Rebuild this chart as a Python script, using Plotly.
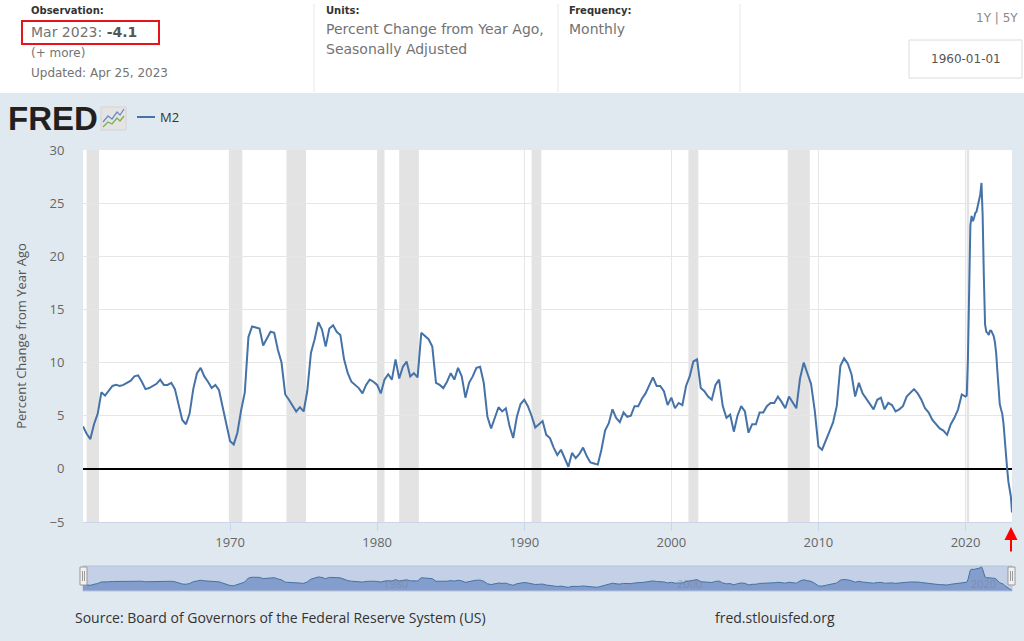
import pandas as pd
import plotly.graph_objects as go

# ---------------- data ----------------
# M2, percent change from year ago. Quarterly readings (Jan, Apr, Jul, Oct) 1960-2019
m2_quarterly = [
    4.0, 3.3, 2.8, 4.2,    # 1960
    5.2, 7.2, 6.9, 7.4,    # 1961
    7.8, 7.9, 7.8, 7.9,    # 1962
    8.1, 8.3, 8.7, 8.8,    # 1963
    8.2, 7.5, 7.6, 7.8,    # 1964
    8.0, 8.4, 7.9, 7.9,    # 1965
    8.1, 7.5, 5.9, 4.6,    # 1966
    4.2, 5.2, 7.5, 9.0,    # 1967
    9.5, 8.7, 8.2, 7.6,    # 1968
    7.9, 7.4, 5.8, 4.2,    # 1969
    2.6, 2.3, 3.4, 5.5,    # 1970
    7.2, 12.4, 13.4, 13.3, # 1971
    13.2, 11.6, 12.2, 12.9,# 1972
    12.8, 11.2, 10.0, 7.0, # 1973
    6.5, 6.0, 5.4, 5.8,    # 1974
    5.4, 7.3, 10.9, 12.2,  # 1975
    13.8, 13.1, 11.5, 13.2,# 1976
    13.5, 12.9, 12.6, 10.3,# 1977
    9.0, 8.2, 7.9, 7.6,    # 1978
    7.1, 7.9, 8.4, 8.2,    # 1979
    7.9, 7.1, 8.4, 8.9,    # 1980
    8.4, 10.3, 8.5, 9.6,   # 1981
    10.1, 8.7, 9.0, 8.6,   # 1982
    12.8, 12.5, 12.2, 11.5,# 1983
    8.1, 7.9, 7.6, 8.2,    # 1984
    9.0, 8.4, 9.5, 8.7,    # 1985
    6.7, 8.1, 8.7, 9.5,    # 1986
    9.6, 8.1, 4.9, 3.8,    # 1987
    4.9, 5.8, 5.4, 5.7,    # 1988
    4.0, 2.9, 4.9, 6.1,    # 1989
    6.5, 5.9, 5.0, 3.9,    # 1990
    4.2, 4.5, 3.2, 2.9,    # 1991
    2.0, 1.3, 1.8, 1.0,    # 1992
    0.2, 1.5, 1.0, 1.4,    # 1993
    2.0, 1.2, 0.6, 0.5,    # 1994
    0.4, 1.8, 3.6, 4.3,    # 1995
    5.6, 4.8, 4.4, 5.3,    # 1996
    4.9, 5.0, 5.9, 5.9,    # 1997
    6.6, 7.1, 7.8, 8.6,    # 1998
    7.8, 7.8, 7.3, 6.0,    # 1999
    6.7, 5.7, 6.2, 6.0,    # 2000
    7.8, 8.7, 10.1, 10.3,  # 2001
    7.6, 7.3, 6.8, 6.5,    # 2002
    7.9, 8.4, 5.9, 4.8,    # 2003
    5.1, 3.5, 5.0, 5.9,    # 2004
    5.4, 3.4, 4.2, 4.2,    # 2005
    5.3, 5.3, 5.9, 6.2,    # 2006
    6.2, 6.8, 6.3, 5.7,    # 2007
    6.8, 6.2, 5.7, 8.5,    # 2008
    10.0, 9.0, 8.0, 5.5,   # 2009
    2.1, 1.8, 2.6, 3.5,    # 2010
    4.4, 5.9, 9.7, 10.4,   # 2011
    9.9, 8.9, 6.8, 8.1,    # 2012
    7.1, 6.6, 6.2, 5.6,    # 2013
    6.5, 6.7, 5.6, 6.2,    # 2014
    6.0, 5.4, 5.6, 5.9,    # 2015
    6.8, 7.2, 7.5, 7.1,    # 2016
    6.5, 5.7, 5.3, 4.6,    # 2017
    4.2, 3.8, 3.6, 3.2,    # 2018
    4.2, 4.8, 5.6, 7.0,    # 2019
]
# Monthly readings Jan 2020 - Mar 2023
m2_monthly = [
    6.8, 6.9, 10.3, 17.6, 22.9, 23.8, 23.3, 23.6, 24.1, 24.2, 24.7, 25.2,   # 2020
    25.8, 26.9, 24.0, 18.1, 13.6, 12.9, 12.8, 12.6, 13.0, 13.0, 12.7, 12.5, # 2021
    11.9, 10.9, 9.3, 7.6, 6.1, 5.6, 5.2, 4.3, 2.6, 1.3, 0.0, -1.2,          # 2022
    -1.9, -2.6, -4.1,                                                       # 2023
]
quarterly_dates = pd.date_range("1960-01-01", "2019-10-01", freq="QS")
monthly_dates = pd.date_range("2020-01-01", "2023-03-01", freq="MS")
dates = list(quarterly_dates) + list(monthly_dates)
values = m2_quarterly + m2_monthly

recessions = [
    ("1960-04-01", "1961-02-01"), ("1969-12-01", "1970-11-01"),
    ("1973-11-01", "1975-03-01"), ("1980-01-01", "1980-07-01"),
    ("1981-07-01", "1982-11-01"), ("1990-07-01", "1991-03-01"),
    ("2001-03-01", "2001-11-01"), ("2007-12-01", "2009-06-01"),
    ("2020-02-01", "2020-04-01"),
]
x_tick_years = ["1970", "1980", "1990", "2000", "2010", "2020"]
nav_tick_years = ["1980", "2000", "2020"]
y_ticks = [-5, 0, 5, 10, 15, 20, 25, 30]

# ---------------- layout helpers (pixel -> paper) ----------------
W_PX, H_PX = 1024, 641
L, R, T, B = 83, 1012, 150, 591
def px(x):
    return (x - L) / (R - L)
def py(y):
    return (B - y) / (B - T)

BLUE = "#4572a7"
BG = "#e1e9f0"
HFONT = "DejaVu Sans"
CFONT = "Open Sans"

fig = go.Figure()

# main line
fig.add_trace(go.Scatter(
    x=dates, y=values, mode="lines", name="M2",
    line=dict(color=BLUE, width=2), xaxis="x", yaxis="y",
    showlegend=False, hovertemplate="%{x|%b %Y}: %{y:.1f}<extra></extra>",
))
# navigator area (shifted so the fill sits on the navigator's floor)
vmin = min(values)
nav_vals = [v - vmin for v in values]
fig.add_trace(go.Scatter(
    x=dates, y=nav_vals, mode="lines", fill="tozeroy",
    line=dict(color=BLUE, width=1), fillcolor="rgba(110,140,195,0.75)",
    xaxis="x2", yaxis="y2", showlegend=False, hoverinfo="skip",
))

shapes = []
# recession bands
for s, e in recessions:
    shapes.append(dict(type="rect", xref="x", yref="y domain", x0=s, x1=e, y0=0, y1=1,
                       fillcolor="#e3e3e3", line=dict(width=0), layer="below"))
# header white band
shapes.append(dict(type="rect", xref="paper", yref="paper", x0=px(0), x1=px(W_PX),
                   y0=py(93), y1=py(0), fillcolor="white", line=dict(width=0), layer="below"))
# header dividers
for xd in (314, 558, 740):
    shapes.append(dict(type="line", xref="paper", yref="paper", x0=px(xd), x1=px(xd),
                       y0=py(92), y1=py(4), line=dict(color="#e8e8e8", width=1)))
# red observation box
shapes.append(dict(type="rect", xref="paper", yref="paper", x0=px(22), x1=px(159),
                   y0=py(44), y1=py(21), line=dict(color="#e8141b", width=2)))
# date box
shapes.append(dict(type="rect", xref="paper", yref="paper", x0=px(909), x1=px(1022),
                   y0=py(78), y1=py(40), line=dict(color="#dcdcdc", width=1),
                   fillcolor="white"))
# FRED icon
shapes.append(dict(type="rect", xref="paper", yref="paper", x0=px(101), x1=px(126),
                   y0=py(130), y1=py(107), fillcolor="#e4e4e4",
                   line=dict(color="#d4d4d4", width=1)))
def path(points):
    return "M " + " L ".join(f"{px(a):.5f},{py(b):.5f}" for a, b in points)
shapes.append(dict(type="path", xref="paper", yref="paper",
                   path=path([(103, 122), (108, 116), (112, 119), (117, 112), (120, 115), (124, 109)]),
                   line=dict(color="#6b8fc2", width=1.3)))
shapes.append(dict(type="path", xref="paper", yref="paper",
                   path=path([(103, 127), (108, 122), (112, 124), (117, 118), (120, 121), (124, 116)]),
                   line=dict(color="#7fb04a", width=1.3)))
# legend line
shapes.append(dict(type="line", xref="paper", yref="paper", x0=px(137), x1=px(155),
                   y0=py(117), y1=py(117), line=dict(color=BLUE, width=2)))
# navigator handles
for hx in (80, 1008):
    shapes.append(dict(type="rect", xref="paper", yref="paper", x0=px(hx), x1=px(hx + 7),
                       y0=py(585), y1=py(567), fillcolor="#f2f2f2",
                       line=dict(color="#999999", width=1)))
    for lx in (hx + 2.5, hx + 4.5):
        shapes.append(dict(type="line", xref="paper", yref="paper", x0=px(lx), x1=px(lx),
                           y0=py(581), y1=py(571), line=dict(color="#999999", width=1)))

annotations = []
def text(x, y, s, size, color, family=HFONT, xanchor="left"):
    annotations.append(dict(x=px(x), y=py(y), xref="paper", yref="paper", text=s,
                            showarrow=False, xanchor=xanchor, yanchor="middle",
                            font=dict(family=family, size=size, color=color)))

GRAY = "#737373"
text(29, 11, "<b>Observation:</b>", 10, "#333333")
text(29, 32, "Mar 2023: <b><span style='color:#555555'>-4.1</span></b>", 14, GRAY)
text(29, 53, "(+ more)", 12, GRAY)
text(29, 73, "Updated: Apr 25, 2023", 12, GRAY)
text(324, 11, "<b>Units:</b>", 10, "#333333")
text(324, 29, "Percent Change from Year Ago,", 14, GRAY)
text(324, 49, "Seasonally Adjusted", 14, GRAY)
text(567, 11, "<b>Frequency:</b>", 10, "#333333")
text(567, 29, "Monthly", 14, GRAY)
text(1020, 18, "1Y | 5Y", 12, "#888888", xanchor="right")
text(966, 59, "1960-01-01", 12, "#555555", xanchor="center")
# FRED logo + legend label
text(6, 118, "<b>FRED</b>", 33, "#231f20", family="Liberation Sans")
text(158, 117, "M2", 13, "#333333", family=CFONT)
# source line
text(73, 617, "Source: Board of Governors of the Federal Reserve System (US)", 14, "#333333", family=CFONT)
text(713, 617, "fred.stlouisfed.org", 14, "#333333", family=CFONT)
# navigator year labels
for yr in nav_tick_years:
    annotations.append(dict(x=f"{yr}-04-01", y=0.3, xref="x2", yref="y2 domain", text=yr,
                            showarrow=False, xanchor="left", yanchor="middle",
                            font=dict(family=CFONT, size=11, color="rgba(120,130,150,0.55)")))
# red arrow pointing at latest observation
annotations.append(dict(x=px(1011), y=py(527), xref="paper", yref="paper", text="",
                        showarrow=True, ax=0, ay=26, arrowcolor="#ff0000",
                        arrowwidth=2, arrowhead=2, arrowsize=1.3))

nav_top, nav_bot = 566, 591
fig.update_layout(
    width=W_PX, height=H_PX,
    margin=dict(l=L, r=W_PX - R, t=T, b=H_PX - B, autoexpand=False),
    paper_bgcolor=BG, plot_bgcolor="white",
    font=dict(family=CFONT, color="#666666"),
    xaxis=dict(
        type="date", range=["1960-01-01", "2023-03-01"], domain=[0, 1],
        tickvals=[f"{y}-01-01" for y in x_tick_years], ticktext=x_tick_years,
        showgrid=True, gridcolor="#e6e6e6", gridwidth=1,
        ticks="outside", ticklen=8, tickcolor="#ccd6eb",
        showline=True, linecolor="#ccd6eb", linewidth=1,
        tickfont=dict(family=CFONT, size=13, color="#666666"),
        zeroline=False, anchor="y",
    ),
    yaxis=dict(
        range=[-5, 30], domain=[py(522), 1], tickvals=y_ticks,
        showgrid=True, gridcolor="#e6e6e6", gridwidth=1,
        zeroline=True, zerolinecolor="#000000", zerolinewidth=2,
        ticks="outside", ticklen=15, tickcolor="rgba(0,0,0,0)",
        tickfont=dict(family=CFONT, size=13, color="#666666"),
        title=dict(text="Percent Change from Year Ago", standoff=19,
                   font=dict(family=CFONT, size=13, color="#555555")),
        anchor="x",
    ),
    xaxis2=dict(
        type="date", range=["1960-01-01", "2023-03-01"], domain=[0, 1],
        showgrid=False, showticklabels=False, zeroline=False, anchor="y2",
    ),
    yaxis2=dict(
        range=[-0.5, max(nav_vals) + 1.2], domain=[py(nav_bot), py(nav_top)],
        showgrid=False, showticklabels=False, zeroline=False, anchor="x2",
    ),
    shapes=shapes, annotations=annotations,
)
# navigator mask / background
fig.add_shape(type="rect", xref="paper", yref="paper", x0=0, x1=1,
              y0=py(nav_bot), y1=py(nav_top), fillcolor="#c3d0e6",
              line=dict(color="#b5c3dc", width=1), layer="below")

fig.write_html("out.html")
